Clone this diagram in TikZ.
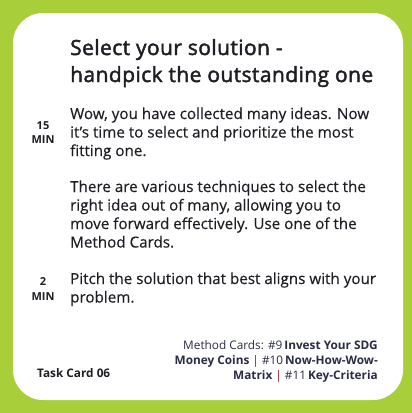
\documentclass[tikz,border=0pt]{standalone}
\usepackage{fontspec}
\setmainfont{Open Sans}
\newfontfamily\titlefam[FakeBold=2,LetterSpace=2]{Open Sans}
\newfontfamily\bodyfam[FakeBold=0.3]{Open Sans}
\definecolor{cardgreen}{HTML}{A8CF3A}
\definecolor{ink}{HTML}{1E1E24}
\definecolor{navy}{HTML}{2A2C45}
\definecolor{barred}{HTML}{8A1C2C}
\tikzset{
  txt/.style={anchor=base west, inner sep=0pt, text=ink},
  rtxt/.style={anchor=base east, inner sep=0pt, text=navy},
  ctxt/.style={anchor=base, inner sep=0pt, text=ink},
  titlefont/.style={font=\fontsize{21}{24}\titlefam},
  bodyfont/.style={font=\fontsize{15.2}{18}\bodyfam},
  minfont/.style={font=\fontsize{11}{12}\selectfont\bfseries},
  footfont/.style={font=\fontsize{11.8}{14}\selectfont},
}
\begin{document}
\begin{tikzpicture}[x=1pt,y=-1pt]
\useasboundingbox (0,0) rectangle (412,413);
\fill[cardgreen] (0,0) rectangle (412,413);
\fill[white, rounded corners=30pt] (13,13) rectangle (403,400);
% title
\node[txt,titlefont] (t1) at (70,55) {Select your solution -};
\node[txt,titlefont] (t2) at (70,82) {handpick the outstanding one};
% times
\node[ctxt,minfont] (m1) at (43,129) {15};
\node[ctxt,minfont] (m2) at (43,143) {MIN};
\node[ctxt,minfont] (m3) at (43,285) {2};
\node[ctxt,minfont] (m4) at (43,300) {MIN};
% body
\node[txt,bodyfont] (b1) at (70,119) {Wow, you have collected many ideas. Now};
\node[txt,bodyfont] (b2) at (70,137.5) {it’s time to select and prioritize the most};
\node[txt,bodyfont] (b3) at (70,156) {fitting one.};
\node[txt,bodyfont] (b4) at (70,192) {There are various techniques to select the};
\node[txt,bodyfont] (b5) at (70,210.5) {right idea out of many, allowing you to};
\node[txt,bodyfont] (b6) at (70,229) {move forward effectively. Use one of the};
\node[txt,bodyfont] (b7) at (70,247.5) {Method Cards.};
\node[txt,bodyfont] (b8) at (70,284) {Pitch the solution that best aligns with your};
\node[txt,bodyfont] (b9) at (70,302.5) {problem.};
% footer
\node[rtxt,footfont] (f1) at (378,349) {Method Cards: \#9\,\textbf{Invest Your SDG}};
\node[rtxt,footfont] (f2) at (378,364) {\textbf{Money Coins} \textcolor{barred}{|} \#10\,\textbf{Now-How-Wow-}};
\node[rtxt,footfont] (f3) at (378,379) {\textbf{Matrix} \textcolor{barred}{|} \#11\,\textbf{Key-Criteria}};
\node[txt,font=\fontsize{11.8}{14}\selectfont\bfseries] (tc) at (37,377) {Task Card 06};
\end{tikzpicture}
\end{document}
